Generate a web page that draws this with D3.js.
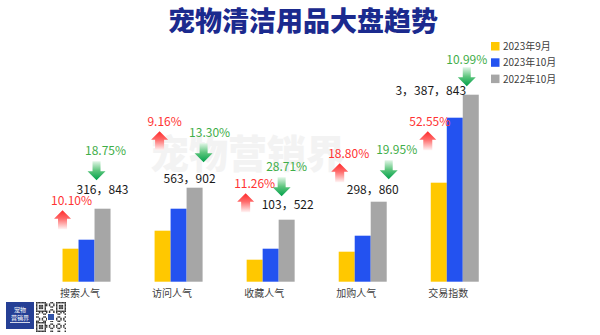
<!DOCTYPE html>
<html><head><meta charset="utf-8">
<script src="https://cdn.jsdelivr.net/npm/d3@7"></script>
<style>
html,body{margin:0;padding:0;background:#fff;}
svg{display:block;}
text{font-family:"Noto Sans CJK SC","Noto Sans",sans-serif;}
</style></head>
<body>
<svg id="chart" width="600" height="335"></svg>
<script>
// ---- data ----
const categories = ["搜索人气","访问人气","收藏人气","加购人气","交易指数"];
const seriesNames = ["2023年9月","2023年10月","2022年10月"];
// bar heights as drawn (index units, picture is not to scale)
const sep2023 = [33, 51, 22, 30, 99];
const oct2023 = [42, 73, 33, 46, 164];
const oct2022 = [73, 94, 62, 80, 187];
const oct2022Labels = ["316，843","563，902","103，522","298，860","3，387，843"];
const momUp = ["10.10%","9.16%","11.26%","18.80%","52.55%"];
const yoyDown = ["18.75%","13.30%","28.71%","19.95%","10.99%"];

// ---- layout (annotation placement relative to group centre, in y-scale units) ----
const numPos   = [[16,88],[11,99],[17,73],[10,88],[-24,187]];
const redPos   = [[-15,77,-24],[-14,156,-19],[-16,94,-25],[-14,124,-23],[-25,156,-27]];
const greenPos = [[19,127,10],[31,145,25],[16,111,11],[34,128,26],[12,218,12]];
const colors = ["#ffc800","#2352f0","#a6a6a6"];

const svg = d3.select("#chart");
const defs = svg.append("defs");
const gr = defs.append("linearGradient").attr("id","gRed").attr("x1",0).attr("y1",0).attr("x2",0).attr("y2",1);
gr.append("stop").attr("offset",0).attr("stop-color","#ff2a2a");
gr.append("stop").attr("offset",0.45).attr("stop-color","#ff6b6b");
gr.append("stop").attr("offset",1).attr("stop-color","#fff4f4");
const gg = defs.append("linearGradient").attr("id","gGreen").attr("x1",0).attr("y1",0).attr("x2",0).attr("y2",1);
gg.append("stop").attr("offset",0).attr("stop-color","#e2f6e7");
gg.append("stop").attr("offset",0.5).attr("stop-color","#5cc57c");
gg.append("stop").attr("offset",1).attr("stop-color","#00a04a");

// title
svg.append("text").attr("x",303).attr("y",31).attr("text-anchor","middle")
  .attr("font-size",27).attr("font-weight",900).attr("fill","#1b2a8e")
  .text("宠物清洁用品大盘趋势");

// watermark
svg.append("text").attr("x",150).attr("y",168).attr("font-size",39).attr("font-weight",900)
  .attr("fill","#f3f3f3").text("宠物营销界");

const x0 = d3.scaleBand().domain(categories).range([40.5,500.8]).paddingInner(0.4786).paddingOuter(0.2393);
const x1 = d3.scaleBand().domain(seriesNames).range([0,x0.bandwidth()]);
const y = d3.scaleLinear().domain([0,200]).range([281.7,81.7]);

const rows = categories.map((c,i)=>({c,i,vals:[sep2023[i],oct2023[i],oct2022[i]]}));
const g = svg.append("g");
const grp = g.selectAll("g.grp").data(rows).join("g").attr("class","grp")
  .attr("transform",d=>`translate(${x0(d.c)},0)`);
grp.selectAll("rect").data(d=>d.vals.map((v,k)=>({v,k})))
  .join("rect")
  .attr("x",d=>x1(seriesNames[d.k])).attr("width",x1.bandwidth())
  .attr("y",d=>y(d.v)).attr("height",d=>y(0)-y(d.v))
  .attr("fill",d=>colors[d.k]);

// category labels
svg.selectAll("text.cat").data(categories).join("text").attr("class","cat")
  .attr("x",d=>x0(d)+x0.bandwidth()/2-6.5).attr("y",297)
  .attr("text-anchor","middle").attr("font-size",10).attr("fill","#404040").text(d=>d);

const cx = c=>x0(c)+x0.bandwidth()/2;
const upArrow = "M0,0L8.5,8.5L4.5,8.5L4.5,19L-4.5,19L-4.5,8.5L-8.5,8.5Z";
const downArrow = "M-4,0L4,0L4,10L9,10L0,19L-9,10L-4,10Z";

rows.forEach(d=>{
  const c = cx(d.c);
  // number label
  svg.append("text").attr("x",c+numPos[d.i][0]).attr("y",y(numPos[d.i][1]))
    .attr("text-anchor","middle").attr("font-size",12).attr("fill","#1a1a1a")
    .text(oct2022Labels[d.i]);
  // red up
  const r = redPos[d.i];
  svg.append("text").attr("x",c+r[0]).attr("y",y(r[1])).attr("text-anchor","middle")
    .attr("font-size",12).attr("fill","#ff3333").text(momUp[d.i]);
  svg.append("path").attr("d",upArrow).attr("fill","url(#gRed)")
    .attr("transform",`translate(${c+r[2]},${y(r[1])+5.5})`);
  // green down
  const q = greenPos[d.i];
  svg.append("text").attr("x",c+q[0]).attr("y",y(q[1])).attr("text-anchor","middle")
    .attr("font-size",12).attr("fill","#3fae49").text(yoyDown[d.i]);
  svg.append("path").attr("d",downArrow).attr("fill","url(#gGreen)")
    .attr("transform",`translate(${c+q[2]},${y(q[1])+(d.i===4?3.5:6.5)})`);
});

// legend
const lg = svg.append("g").attr("transform","translate(491,42)");
seriesNames.forEach((s,k)=>{
  lg.append("rect").attr("x",0).attr("y",k*16.3).attr("width",8.5).attr("height",8.5).attr("fill",colors[k]);
  lg.append("text").attr("x",12).attr("y",k*16.3+8).attr("font-size",10).attr("fill","#404040").text(s);
});

// logo
const logo = svg.append("g");
logo.append("rect").attr("x",6).attr("y",302).attr("width",28).attr("height",27).attr("fill","#253f95");
logo.append("text").attr("x",20).attr("y",312).attr("text-anchor","middle").attr("font-size",6).attr("fill","#fff").text("宠物");
logo.append("text").attr("x",20).attr("y",320).attr("text-anchor","middle").attr("font-size",6).attr("fill","#fff").text("营销界");
logo.append("rect").attr("x",10).attr("y",322).attr("width",20).attr("height",0.8).attr("fill","#fff");
// QR-like decoration
const qr = svg.append("g").attr("transform","translate(36,302)");
const n = 21, cs = 30/n;
for(let i=0;i<n;i++)for(let j=0;j<n;j++){
  const finder = (i<7&&j<7)||(i<7&&j>=n-7)||(i>=n-7&&j<7);
  let on;
  if(finder){
    const a=i>=n-7?i-(n-7):i, b=j>=n-7?j-(n-7):j;
    on = (a===0||a===6||b===0||b===6)||(a>=2&&a<=4&&b>=2&&b<=4);
  } else on = ((i*7+j*11+i*j)%5)<2;
  if(on) qr.append("rect").attr("x",j*cs).attr("y",i*cs).attr("width",cs).attr("height",cs).attr("fill","#333");
}
qr.append("rect").attr("x",11).attr("y",11).attr("width",8).attr("height",8).attr("fill","#fff");
qr.append("rect").attr("x",12).attr("y",12).attr("width",6).attr("height",6).attr("fill","#3355aa");
</script>
</body></html>
